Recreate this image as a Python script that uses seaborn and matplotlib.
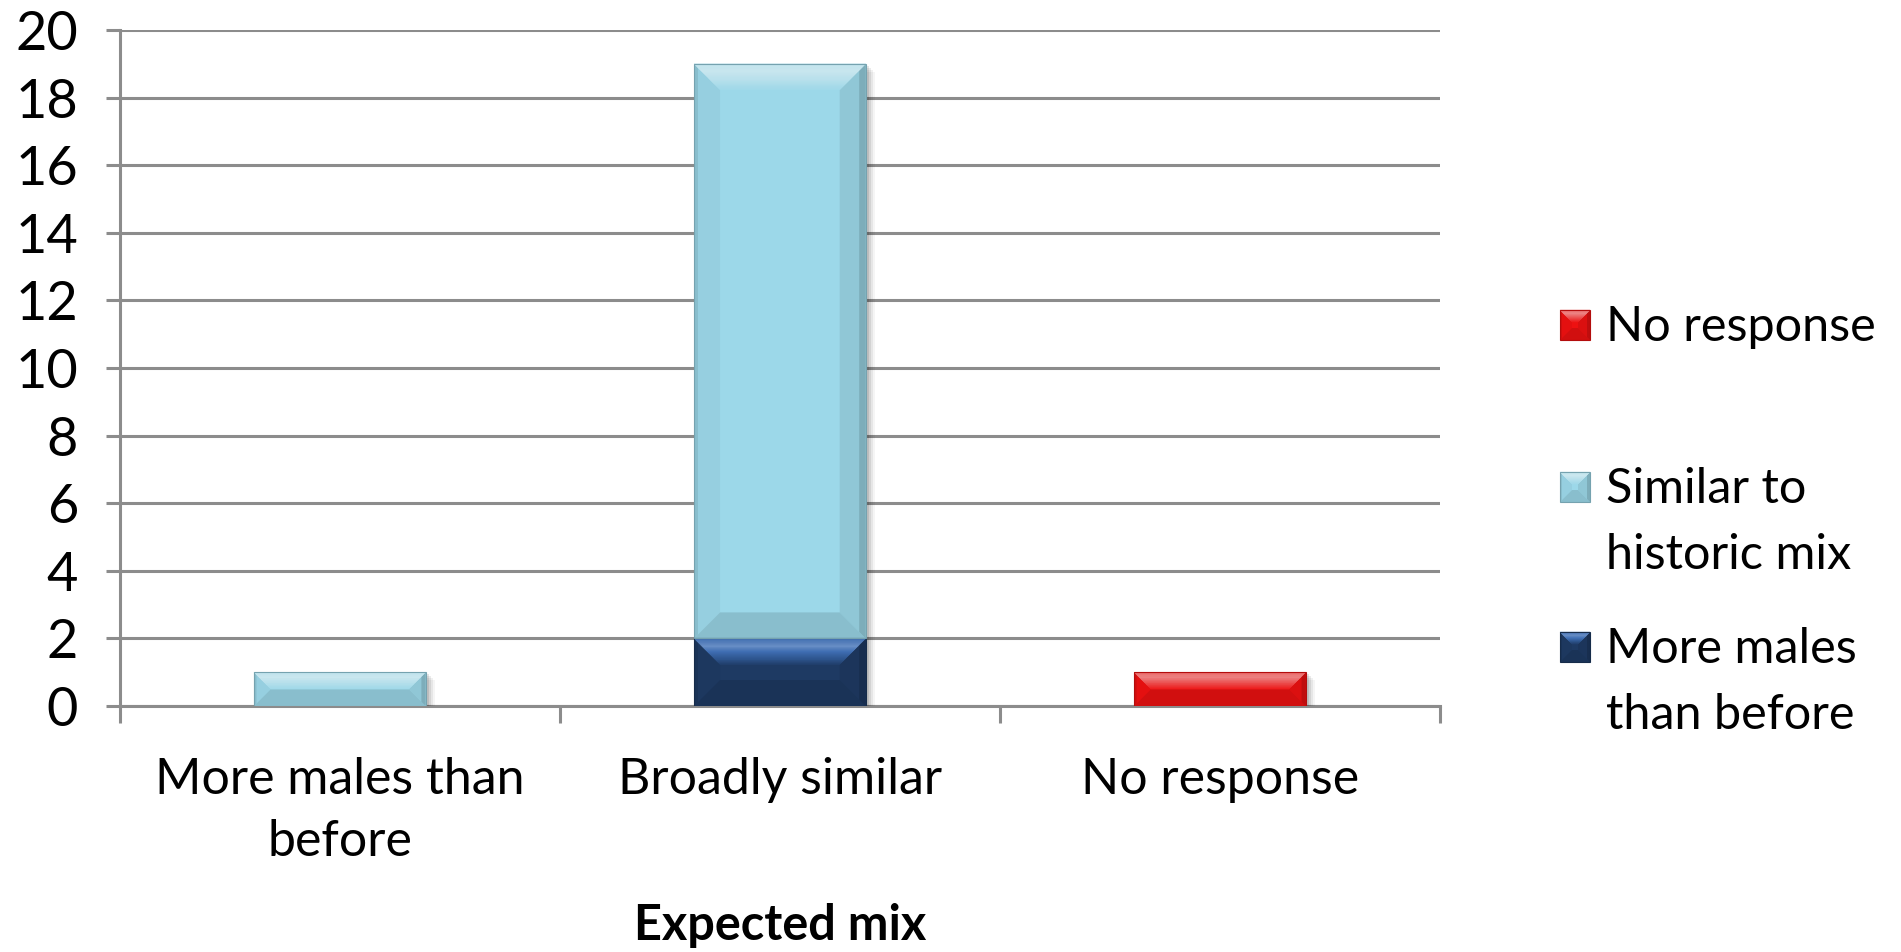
import matplotlib
matplotlib.use("Agg")
import matplotlib.pyplot as plt
import seaborn as sns
import numpy as np
import pandas as pd
import colorsys
from matplotlib.patches import Polygon, Rectangle
from matplotlib.transforms import IdentityTransform
from matplotlib.colors import to_rgb

categories = ["More males than\nbefore", "Broadly similar", "No response"]
series_names = ["More males than before", "Similar to historic mix", "No response"]
more_males = [0, 2, 0]
similar_mix = [1, 17, 0]
no_response = [0, 0, 1]
series_colors = ["#1E3A63", "#9CD8E9", "#EE1111"]
legend_labels = ["No response", "Similar to\nhistoric mix", "More males\nthan before"]
y_ticks = [0, 2, 4, 6, 8, 10, 12, 14, 16, 18, 20]
x_title = "Expected mix"

sns.set_theme(style="white")
plt.rcParams["font.family"] = ["Lato", "DejaVu Sans"]
plt.rcParams["text.color"] = "black"

W, H = 1901, 952
fig = plt.figure(figsize=(W / 100, H / 100), dpi=100)
ax = fig.add_axes([0.063, 0.2584, 0.6945, 0.7101])

grid_c = "#8C8C8C"
for yv in y_ticks:
    ax.axhline(yv, color=grid_c, lw=2.2, zorder=0)

layers = [more_males, similar_mix, no_response]
bottoms = np.vstack([np.zeros(len(categories)), np.cumsum(np.array(layers), axis=0)[:-1]])

segments = []
for i, vals in enumerate(layers):
    df = pd.DataFrame({"cat": categories, "val": vals})
    n_before = len(ax.patches)
    sns.barplot(data=df, x="cat", y="val", color=series_colors[i], width=0.39,
                ax=ax, saturation=1, linewidth=0, zorder=3)
    # stack each segment on top of the previous layers
    for p, b in zip(ax.patches[n_before:], bottoms[i]):
        p.set_y(b)
        if p.get_height() > 0:
            segments.append((p, series_colors[i]))

ax.set_ylim(0, 20)
ax.set_xlim(-0.5, 2.5)


def shade(c, f):
    c = np.array(to_rgb(c))
    return tuple(np.clip(c * f, 0, 1))


def lighten(c, amt):
    h, l, s = colorsys.rgb_to_hls(*to_rgb(c))
    l = min(1.0, l + (1 - l) * amt)
    s = s * (1 - 0.35 * amt)
    return colorsys.hls_to_rgb(h, l, s)


def bevel_box(target, x0, y0, x1, y1, color, bev, z, shadow=True):
    """Draw a bevelled block in display pixels (origin bottom-left)."""
    tr = IdentityTransform()
    add = target.add_patch if hasattr(target, "add_patch") else target.add_artist
    if shadow:
        for k, a in [(8, 0.04), (6, 0.06), (4, 0.08), (2, 0.10)]:
            add(Rectangle((x0 + 1, y0 - k), x1 - x0 + k, y1 - y0, transform=tr,
                          facecolor="black", alpha=a, lw=0, zorder=z - 0.5))
    add(Rectangle((x0, y0), x1 - x0, y1 - y0, transform=tr,
                  facecolor=color, lw=0, zorder=z))
    # side facets
    add(Polygon([(x0, y0), (x0, y1), (x0 + bev, y1 - bev), (x0 + bev, y0 + bev)],
                closed=True, transform=tr, facecolor=shade(color, 0.96), lw=0, zorder=z + 0.1))
    add(Polygon([(x1, y0), (x1, y1), (x1 - bev, y1 - bev), (x1 - bev, y0 + bev)],
                closed=True, transform=tr, facecolor=shade(color, 0.92), lw=0, zorder=z + 0.1))
    add(Polygon([(x0, y0), (x1, y0), (x1 - bev, y0 + bev), (x0 + bev, y0 + bev)],
                closed=True, transform=tr, facecolor=shade(color, 0.88), lw=0, zorder=z + 0.1))
    # darker rims along the vertical edges
    e = max(2, bev * 0.25)
    add(Polygon([(x1, y0), (x1, y1), (x1 - e, y1 - e), (x1 - e, y0 + e)],
                closed=True, transform=tr, facecolor=shade(color, 0.80), lw=0, zorder=z + 0.15))
    add(Polygon([(x0, y0), (x0, y1), (x0 + e * 0.6, y1 - e * 0.6), (x0 + e * 0.6, y0 + e * 0.6)],
                closed=True, transform=tr, facecolor=shade(color, 0.88), lw=0, zorder=z + 0.15))
    # top facet with a bright highlight band
    steps = 24
    for s in range(steps):
        t0, t1 = s / steps, (s + 1) / steps
        tm = (t0 + t1) / 2
        mid = 1 - abs(tm - 0.3) / 0.7 if tm > 0.3 else 0.7 + 0.3 * tm / 0.3
        col = lighten(color, 0.04 + 0.42 * mid)
        ya, yb = y1 - bev * t0, y1 - bev * t1
        xa0, xa1 = x0 + bev * t0, x1 - bev * t0
        xb0, xb1 = x0 + bev * t1, x1 - bev * t1
        add(Polygon([(xa0, ya), (xa1, ya), (xb1, yb), (xb0, yb)], closed=True,
                    transform=tr, facecolor=col, edgecolor=col, lw=0.3, zorder=z + 0.2))
    # thin outline
    add(Rectangle((x0, y0), x1 - x0, y1 - y0, transform=tr, facecolor="none",
                  edgecolor=shade(color, 0.75), lw=0.8, zorder=z + 0.3))


for p, col in segments:
    (x0, y0), (x1, y1) = ax.transData.transform(
        [(p.get_x(), p.get_y()), (p.get_x() + p.get_width(), p.get_y() + p.get_height())])
    p.set_visible(False)
    bev = min(26, (y1 - y0) / 2, (x1 - x0) / 2)
    bevel_box(ax, x0, y0, x1, y1, col, bev, 4)

ax.set_yticks(y_ticks)
ax.set_yticklabels([str(v) for v in y_ticks], fontsize=39)
ax.tick_params(axis="y", length=10, width=2.2, color=grid_c, pad=20, left=True,
               labelcolor="black")
ax.set_xticks(range(len(categories)))
ax.set_xticklabels(categories, fontsize=36, linespacing=1.42)
ax.tick_params(axis="x", which="major", length=0, pad=37, labelcolor="black")
ax.set_xticks([-0.5, 0.5, 1.5, 2.5], minor=True)
ax.tick_params(axis="x", which="minor", length=12, width=2.2, color=grid_c, bottom=True)
ax.set_xlabel(x_title, fontsize=35, fontweight="bold", color="black")
ax.xaxis.set_label_coords(0.5, -(925 - 706) / 676)
ax.xaxis.label.set_va("center")
ax.set_ylabel("")

for side in ["top", "right"]:
    ax.spines[side].set_visible(False)
for side in ["left", "bottom"]:
    ax.spines[side].set_color(grid_c)
    ax.spines[side].set_linewidth(2.2)

# legend: bevelled swatches aligned with the first line of each label
legend_order = [2, 1, 0]
swatch_cy = [325, 487, 647]
line_gap = 66
for k, idx in enumerate(legend_order):
    cy = H - swatch_cy[k]
    bevel_box(fig, 1560, cy - 15, 1590, cy + 15, series_colors[idx], 12, 5, shadow=False)
    for j, line in enumerate(legend_labels[k].split("\n")):
        base = swatch_cy[k] + 16 + j * line_gap
        fig.text(1606 / W, (H - base) / H, line, fontsize=35,
                 ha="left", va="baseline", transform=fig.transFigure)

fig.savefig("out.png", dpi=100, facecolor="white")
